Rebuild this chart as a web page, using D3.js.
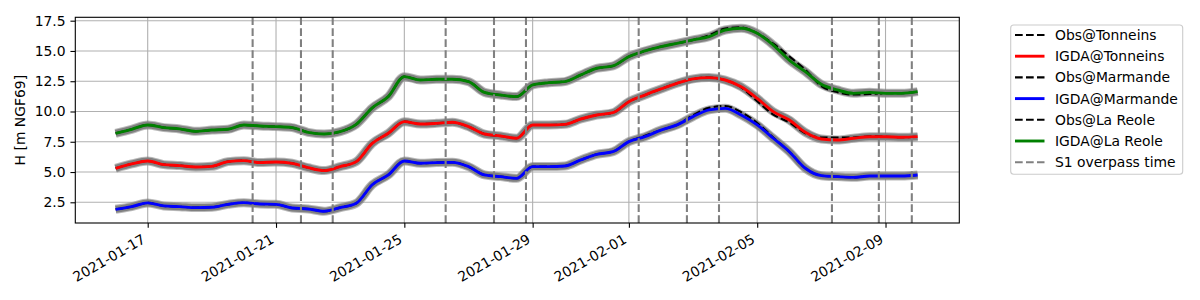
<!DOCTYPE html>
<html>
<head>
<meta charset="utf-8">
<script src="https://cdn.jsdelivr.net/npm/d3@7"></script>
<style>
  body { margin: 0; background: #fff; }
  svg text { font-family: "DejaVu Sans", sans-serif; }
</style>
</head>
<body>
<div id="chart"></div>
<script>
// samples every 12 h starting at this time
const startTime = "2021-01-16T00:00:00Z";
const stepHours = 12;

const igdaTonneins = [5.31, 5.67, 5.91, 5.61, 5.53, 5.42, 5.47, 5.86, 5.94, 5.78,
  5.83, 5.72, 5.36, 5.12, 5.45, 5.86, 7.37, 8.2, 9.16, 8.97,
  9.02, 9.11, 8.75, 8.14, 7.98, 7.79, 8.89, 8.89, 8.94, 9.38,
  9.71, 9.9, 10.81, 11.36, 11.86, 12.33, 12.69, 12.8, 12.6, 12.05,
  11.09, 9.99, 9.3, 8.28, 7.73, 7.65, 7.79, 7.92, 7.92, 7.87, 7.92];
const obsTonneins = [5.31, 5.67, 5.91, 5.61, 5.53, 5.42, 5.47, 5.86, 5.94, 5.78,
  5.83, 5.72, 5.36, 5.12, 5.45, 5.86, 7.37, 8.2, 9.16, 8.97,
  9.02, 9.11, 8.75, 8.14, 7.98, 7.79, 8.89, 8.89, 8.94, 9.38,
  9.71, 9.9, 10.81, 11.36, 11.86, 12.33, 12.69, 12.8, 12.6, 12.0,
  10.85, 9.75, 9.1, 8.2, 7.85, 7.85, 7.85, 7.95, 7.92, 7.87, 7.92];

const igdaMarmande = [1.92, 2.14, 2.45, 2.2, 2.14, 2.06, 2.09, 2.33, 2.47, 2.36,
  2.33, 2.03, 1.95, 1.76, 2.06, 2.42, 3.95, 4.76, 5.91, 5.72,
  5.78, 5.8, 5.45, 4.76, 4.62, 4.48, 5.45, 5.45, 5.5, 6.0,
  6.46, 6.68, 7.51, 7.92, 8.47, 8.89, 9.58, 10.13, 10.26, 9.71,
  8.89, 7.79, 6.68, 5.31, 4.7, 4.62, 4.56, 4.67, 4.67, 4.67, 4.76];
const obsMarmande = [1.92, 2.14, 2.45, 2.2, 2.14, 2.06, 2.09, 2.33, 2.47, 2.36,
  2.33, 2.03, 1.95, 1.76, 2.06, 2.42, 3.95, 4.76, 5.91, 5.72,
  5.78, 5.8, 5.45, 4.76, 4.62, 4.48, 5.45, 5.45, 5.5, 6.0,
  6.46, 6.68, 7.51, 8.0, 8.47, 8.89, 9.7, 10.3, 10.45, 9.95,
  9.05, 7.85, 6.68, 5.31, 4.7, 4.62, 4.56, 4.67, 4.67, 4.67, 4.76];

const igdaLaReole = [8.2, 8.53, 8.89, 8.67, 8.56, 8.36, 8.47, 8.53, 8.89, 8.8,
  8.75, 8.67, 8.28, 8.14, 8.34, 8.94, 10.3, 11.23, 12.88, 12.6,
  12.66, 12.66, 12.47, 11.58, 11.36, 11.23, 12.19, 12.38, 12.47, 13.02,
  13.57, 13.76, 14.53, 15.0, 15.36, 15.63, 15.91, 16.18, 16.73, 16.87,
  16.46, 15.49, 14.25, 13.29, 12.24, 11.78, 11.5, 11.58, 11.5, 11.5, 11.64];
const obsLaReole = [8.2, 8.53, 8.89, 8.67, 8.56, 8.36, 8.47, 8.53, 8.89, 8.8,
  8.75, 8.67, 8.28, 8.14, 8.34, 8.94, 10.3, 11.23, 12.88, 12.6,
  12.66, 12.66, 12.47, 11.58, 11.36, 11.23, 12.19, 12.38, 12.47, 13.02,
  13.57, 13.76, 14.53, 15.0, 15.36, 15.63, 15.91, 16.3, 16.85, 16.95,
  16.46, 15.6, 14.55, 13.45, 12.1, 11.6, 11.4, 11.45, 11.5, 11.5, 11.64];

const overpassTimes = ["2021-01-20T06:30Z", "2021-01-21T18:40Z", "2021-01-22T18:25Z",
  "2021-01-26T06:55Z", "2021-01-27T19:05Z", "2021-01-28T19:00Z",
  "2021-02-01T07:20Z", "2021-02-02T19:25Z", "2021-02-03T19:25Z",
  "2021-02-07T07:55Z", "2021-02-08T19:00Z", "2021-02-09T19:40Z"];

const xTicks = ["2021-01-17", "2021-01-21", "2021-01-25", "2021-01-29",
  "2021-02-01", "2021-02-05", "2021-02-09"];
const yTicks = [2.5, 5.0, 7.5, 10.0, 12.5, 15.0, 17.5];

const legendLabels = ["Obs@Tonneins", "IGDA@Tonneins", "Obs@Marmande",
  "IGDA@Marmande", "Obs@La Reole", "IGDA@La Reole", "S1 overpass time"];

const W = 1200, H = 300;
const plot = {left: 75.3, right: 959.3, top: 17.3, bottom: 223};
const fontSize = 13.9;
const tickLen = 4.86;

const svg = d3.select("#chart")
  .append("svg")
  .attr("width", W)
  .attr("height", H);

const t0 = new Date(startTime);
const times = igdaTonneins.map((_, i) => d3.utcHour.offset(t0, i * stepHours));

const x = d3.scaleUtc()
  .domain([new Date("2021-01-14T17:50:00Z"), new Date("2021-02-11T07:12:00Z")])
  .range([plot.left, plot.right]);
const y = d3.scaleLinear()
  .domain([0.79, 17.78])
  .range([plot.bottom, plot.top]);

const xTickDates = xTicks.map(d => new Date(d + "T00:00:00Z"));

// grid
const grid = svg.append("g").attr("stroke", "#b0b0b0").attr("stroke-width", 1.1);
grid.selectAll("line.gx")
  .data(xTickDates)
  .enter().append("line")
  .attr("x1", d => x(d)).attr("x2", d => x(d))
  .attr("y1", plot.top).attr("y2", plot.bottom);
grid.selectAll("line.gy")
  .data(yTicks)
  .enter().append("line")
  .attr("x1", plot.left).attr("x2", plot.right)
  .attr("y1", d => y(d)).attr("y2", d => y(d));

const line = d3.line()
  .x((d, i) => x(times[i]))
  .y(d => y(d))
  .curve(d3.curveMonotoneX);

const series = [
  {obs: obsTonneins, igda: igdaTonneins, color: "#ff0000"},
  {obs: obsMarmande, igda: igdaMarmande, color: "#0000ff"},
  {obs: obsLaReole, igda: igdaLaReole, color: "#008000"}
];

// ensemble spread (grey band)
series.forEach(s => {
  svg.append("path")
    .attr("d", line(s.igda))
    .attr("fill", "none")
    .attr("stroke", "#808080")
    .attr("stroke-width", 9)
    .attr("stroke-opacity", 0.55)
    .attr("stroke-linejoin", "round");
  svg.append("path")
    .attr("d", line(s.igda))
    .attr("fill", "none")
    .attr("stroke", "#808080")
    .attr("stroke-width", 7)
    .attr("stroke-linejoin", "round");
});

// observations then analysis
series.forEach(s => {
  svg.append("path")
    .attr("d", line(s.obs))
    .attr("fill", "none")
    .attr("stroke", "#000")
    .attr("stroke-width", 2.08)
    .attr("stroke-dasharray", "7.7,3.3");
  svg.append("path")
    .attr("d", line(s.igda))
    .attr("fill", "none")
    .attr("stroke", s.color)
    .attr("stroke-width", 2.9);
});

// S1 overpass times
svg.append("g")
  .selectAll("line")
  .data(overpassTimes.map(d => new Date(d)))
  .enter().append("line")
  .attr("x1", d => x(d)).attr("x2", d => x(d))
  .attr("y1", plot.top).attr("y2", plot.bottom)
  .attr("stroke", "#808080")
  .attr("stroke-width", 2.08)
  .attr("stroke-dasharray", "7.7,3.3");

// axes
const xAxis = svg.append("g")
  .attr("transform", `translate(0,${plot.bottom})`)
  .call(d3.axisBottom(x)
    .tickValues(xTickDates)
    .tickFormat(d3.utcFormat("%Y-%m-%d"))
    .tickSize(tickLen)
    .tickSizeOuter(0));
xAxis.select(".domain").remove();
xAxis.selectAll(".tick line").attr("stroke", "#000").attr("stroke-width", 1.1);
xAxis.selectAll("text")
  .attr("y", null).attr("dy", null).attr("x", null)
  .attr("fill", "#000")
  .attr("font-size", fontSize)
  .attr("font-family", "DejaVu Sans, sans-serif")
  .attr("text-anchor", "end")
  .attr("transform", `translate(-1.7,${242 - plot.bottom}) rotate(-30)`);

const yAxis = svg.append("g")
  .attr("transform", `translate(${plot.left},0)`)
  .call(d3.axisLeft(y)
    .tickValues(yTicks)
    .tickFormat(d3.format(".1f"))
    .tickSize(tickLen)
    .tickPadding(4.86)
    .tickSizeOuter(0));
yAxis.select(".domain").remove();
yAxis.selectAll(".tick line").attr("stroke", "#000").attr("stroke-width", 1.1);
yAxis.selectAll("text")
  .attr("fill", "#000")
  .attr("font-size", fontSize)
  .attr("font-family", "DejaVu Sans, sans-serif");

svg.append("rect")
  .attr("x", plot.left).attr("y", plot.top)
  .attr("width", plot.right - plot.left)
  .attr("height", plot.bottom - plot.top)
  .attr("fill", "none")
  .attr("stroke", "#000")
  .attr("stroke-width", 1.1);

svg.append("text")
  .attr("transform", `translate(25,${(plot.top + plot.bottom) / 2}) rotate(-90)`)
  .attr("text-anchor", "middle")
  .attr("font-size", fontSize)
  .text("H [m NGF69]");

// legend
const legendStyles = [
  {color: "#000", dash: "7.7,3.3", w: 2.08},
  {color: "#ff0000", dash: null, w: 2.9},
  {color: "#000", dash: "7.7,3.3", w: 2.08},
  {color: "#0000ff", dash: null, w: 2.9},
  {color: "#000", dash: "7.7,3.3", w: 2.08},
  {color: "#008000", dash: null, w: 2.9},
  {color: "#808080", dash: "7.7,3.3", w: 2.08}
];

const legend = svg.append("g");
legend.append("rect")
  .attr("x", 1010.7).attr("y", 25)
  .attr("width", 172).attr("height", 149.3)
  .attr("rx", 3)
  .attr("fill", "#fff").attr("fill-opacity", 0.8)
  .attr("stroke", "#cccccc").attr("stroke-width", 1.1);

const rows = legend.selectAll("g.row")
  .data(legendLabels)
  .enter().append("g")
  .attr("transform", (d, i) => `translate(0,${35 + i * 21.2})`);
rows.append("line")
  .attr("x1", 1015).attr("x2", 1044.5)
  .attr("stroke", (d, i) => legendStyles[i].color)
  .attr("stroke-width", (d, i) => legendStyles[i].w)
  .attr("stroke-dasharray", (d, i) => legendStyles[i].dash);
rows.append("text")
  .attr("x", 1055)
  .attr("dy", "0.36em")
  .attr("font-size", fontSize)
  .text(d => d);
</script>
</body>
</html>
